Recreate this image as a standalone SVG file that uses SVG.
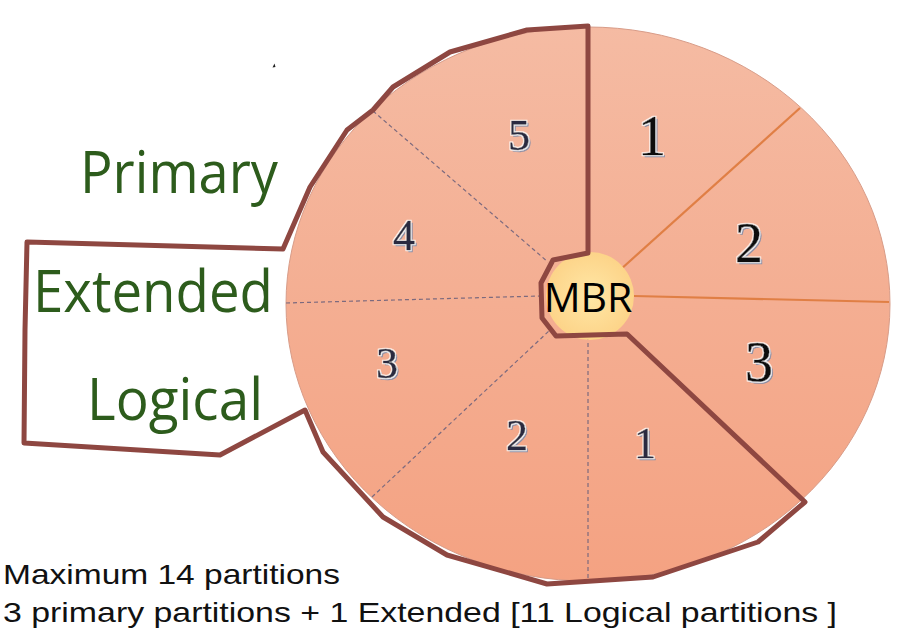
<svg xmlns="http://www.w3.org/2000/svg" width="900" height="633" viewBox="0 0 900 633">
  <defs>
    <linearGradient id="diskFill" x1="0" y1="0" x2="0" y2="1">
      <stop offset="0" stop-color="#F5BBA3"/>
      <stop offset="0.5" stop-color="#F4AE92"/>
      <stop offset="1" stop-color="#F4A282"/>
    </linearGradient>
    <radialGradient id="mbrFill" cx="0.5" cy="0.5" r="0.6">
      <stop offset="0" stop-color="#FFE7A6"/>
      <stop offset="1" stop-color="#FCD083"/>
    </radialGradient>
    <!-- engraved look for partition numbers: light rim plus grey offset shadow -->
    <filter id="engrave" x="-30%" y="-30%" width="160%" height="160%">
      <feMorphology in="SourceAlpha" operator="dilate" radius="1" result="rim"/>
      <feFlood flood-color="#FFFFFF" flood-opacity="0.8"/>
      <feComposite in2="rim" operator="in" result="rimFill"/>
      <feOffset in="SourceAlpha" dx="2" dy="2" result="off"/>
      <feFlood flood-color="#8A8EA6"/>
      <feComposite in2="off" operator="in" result="shadow"/>
      <feMerge>
        <feMergeNode in="shadow"/>
        <feMergeNode in="rimFill"/>
        <feMergeNode in="SourceGraphic"/>
      </feMerge>
    </filter>
    <style>
      .outline { fill: none; stroke: #8E4741; stroke-width: 5; stroke-linejoin: round; stroke-linecap: round; }
      .primary-split { stroke: #E07F45; stroke-width: 2.2; fill: none; }
      .logical-split { stroke: #7C6A7E; stroke-width: 1.2; stroke-dasharray: 4 3; fill: none; }
      .label { font-family: "Open Sans", "Noto Sans", "DejaVu Sans", sans-serif; fill: #2D5C1C; font-size: 58px; }
      .num-big { font-family: "Liberation Serif", "DejaVu Serif", serif; font-size: 56px; text-anchor: middle; fill: #111111; stroke: #111111; stroke-width: 0.6; filter: url(#engrave); }
      .num-small { font-family: "Liberation Serif", "DejaVu Serif", serif; font-size: 44px; text-anchor: middle; fill: #2A2C40; stroke: #2A2C40; stroke-width: 0.5; filter: url(#engrave); }
      .note { font-family: "Liberation Sans", Arial, sans-serif; font-size: 28px; fill: #111111; }
    </style>
  </defs>

  <rect width="900" height="633" fill="#FFFFFF"/>

  <!-- disk -->
  <g id="disk">
    <ellipse cx="588" cy="304" rx="302" ry="277" fill="url(#diskFill)" stroke="#D89C88" stroke-width="1"/>
  </g>

  <!-- partition boundaries -->
  <g id="connectors">
    <line class="primary-split" x1="620" y1="270" x2="800" y2="108"/>
    <line class="primary-split" x1="634" y1="296" x2="889" y2="302"/>
    <line class="logical-split" x1="373" y1="111" x2="548" y2="262"/>
    <line class="logical-split" x1="286" y1="303" x2="540" y2="296"/>
    <line class="logical-split" x1="372" y1="497" x2="550" y2="330"/>
    <line class="logical-split" x1="588" y1="578" x2="588" y2="337"/>
  </g>

  <!-- master boot record -->
  <g id="mbr">
    <circle cx="590" cy="296" r="44" fill="url(#mbrFill)"/>
    <text x="588" y="312" font-family="'Open Sans', 'Noto Sans', sans-serif" font-size="41" text-anchor="middle" fill="#000000">MBR</text>
  </g>

  <!-- extended partition outline and label box -->
  <g id="extended-outline">
    <polygon class="outline" points="283,249 310,187 347,130 373,110 393,87 450,52 527,30 588,26 588,253 553,260 541,283 542,318 556,336 627,334 805,502 758,542 653,577 547,584 447,555 383,517 323,452 305,410 220,455 24,443 25,330 27,242"/>
  </g>

  <!-- primary partition numbers -->
  <g id="primary-1"><text class="num-big" x="652" y="155">1</text></g>
  <g id="primary-2"><text class="num-big" x="749" y="262">2</text></g>
  <g id="primary-3"><text class="num-big" x="759" y="381">3</text></g>

  <!-- logical partition numbers -->
  <g id="logical-1"><text class="num-small" x="645" y="458">1</text></g>
  <g id="logical-2"><text class="num-small" x="517" y="450">2</text></g>
  <g id="logical-3"><text class="num-small" x="387" y="378">3</text></g>
  <g id="logical-4"><text class="num-small" x="404" y="250">4</text></g>
  <g id="logical-5"><text class="num-small" x="519" y="150">5</text></g>

  <!-- legend labels -->
  <g id="label-primary">
    <text class="label" x="80" y="193" textLength="198" lengthAdjust="spacingAndGlyphs">Primary</text>
  </g>
  <g id="label-extended">
    <text class="label" x="33" y="312" textLength="240" lengthAdjust="spacingAndGlyphs">Extended</text>
  </g>
  <g id="label-logical">
    <text class="label" x="87" y="420" textLength="176" lengthAdjust="spacingAndGlyphs">Logical</text>
  </g>

  <!-- stray mark -->
  <path d="M272.5,67.5 L274.5,63.5 L275.5,67 Z" fill="#222222"/>

  <!-- notes -->
  <g id="notes">
    <text class="note" x="3" y="584" textLength="337" lengthAdjust="spacingAndGlyphs">Maximum 14 partitions</text>
    <text class="note" x="3" y="622" textLength="834" lengthAdjust="spacingAndGlyphs">3 primary partitions + 1 Extended [11 Logical partitions ]</text>
  </g>
</svg>
